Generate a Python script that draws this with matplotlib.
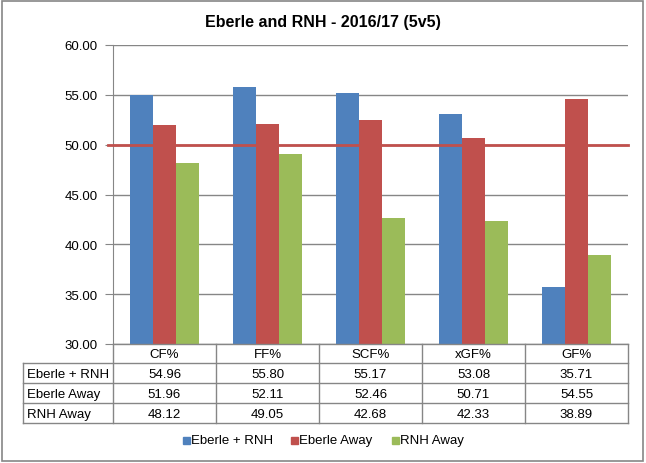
import matplotlib
matplotlib.use("Agg")
import matplotlib.pyplot as plt
from matplotlib.patches import Rectangle
from matplotlib.lines import Line2D
import numpy as np

plt.rcParams['font.family'] = ['Liberation Sans', 'DejaVu Sans']

# data
categories = ['CF%', 'FF%', 'SCF%', 'xGF%', 'GF%']
series_names = ['Eberle + RNH', 'Eberle Away', 'RNH Away']
eberle_rnh = [54.96, 55.80, 55.17, 53.08, 35.71]
eberle_away = [51.96, 52.11, 52.46, 50.71, 54.55]
rnh_away = [48.12, 49.05, 42.68, 42.33, 38.89]
series = [eberle_rnh, eberle_away, rnh_away]
colors = ['#4F81BD', '#C0504D', '#9BBB59']
yticks = [30, 35, 40, 45, 50, 55, 60]
ref_line = 50

W, H = 646, 464
fig = plt.figure(figsize=(W / 100, H / 100), dpi=100)

def fx(px):
    return px / W

def fy(py):
    return 1 - py / H

# outer border
fig.patches.append(Rectangle((fx(2), fy(462)), fx(641), 460 / H,
                             transform=fig.transFigure, fill=False,
                             edgecolor='#868686', linewidth=1.2))

left, right, top, bottom = 113, 628, 46, 345
ax = fig.add_axes([fx(left), fy(bottom), fx(right - left), (bottom - top) / H])

x = np.arange(len(categories))
bw = 0.223
for i, vals in enumerate(series):
    ax.bar(x + (i - 1) * bw, vals, bw, color=colors[i], zorder=2)

ax.axhline(ref_line, xmin=-0.01, color='#C0504D', linewidth=2, zorder=3, clip_on=False)

ax.set_xlim(-0.5, len(categories) - 0.5)
ax.set_ylim(30, 60)
ax.set_yticks(yticks)
ax.set_yticklabels(['%.2f' % t for t in yticks], fontsize=9.5)
ax.yaxis.grid(True, color='#868686', linewidth=1, zorder=0)
ax.set_xticks([])
for s in ['top', 'right', 'bottom']:
    ax.spines[s].set_visible(False)
ax.spines['left'].set_color('#868686')
ax.tick_params(axis='y', length=6, color='#868686', pad=5)

fig.text(fx(323), fy(22), 'Eberle and RNH - 2016/17 (5v5)', ha='center',
         va='center', fontsize=11.5, fontweight='bold')

# data table
grid_c = '#868686'
col_w = (right - left) / len(categories)
row_tops = [345, 364, 384, 404, 424]
lw = 1

def hline(x0, x1, y):
    fig.lines.append(Line2D([fx(x0), fx(x1)], [fy(y), fy(y)], color=grid_c,
                            linewidth=lw, transform=fig.transFigure))

def vline(xp, y0, y1):
    fig.lines.append(Line2D([fx(xp), fx(xp)], [fy(y0), fy(y1)], color=grid_c,
                            linewidth=lw, transform=fig.transFigure))

hline(left, right, row_tops[0])
for y in row_tops[1:]:
    hline(23, right, y)
for j in range(len(categories) + 1):
    vline(left + j * col_w, row_tops[0], row_tops[-1])
vline(23, row_tops[1], row_tops[-1])

for j, c in enumerate(categories):
    fig.text(fx(left + (j + 0.5) * col_w), fy((row_tops[0] + row_tops[1]) / 2 + 1),
             c, ha='center', va='center', fontsize=9.5)
for i, vals in enumerate(series):
    yc = (row_tops[i + 1] + row_tops[i + 2]) / 2 + 1
    fig.text(fx(27), fy(yc), series_names[i], ha='left', va='center', fontsize=9.5)
    for j, v in enumerate(vals):
        fig.text(fx(left + (j + 0.5) * col_w), fy(yc), '%.2f' % v,
                 ha='center', va='center', fontsize=9.5)

# legend
leg_x = [183, 291, 392]
for i, name in enumerate(series_names):
    fig.patches.append(Rectangle((fx(leg_x[i]), fy(445)), fx(7), 7 / H,
                                 transform=fig.transFigure, color=colors[i]))
    fig.text(fx(leg_x[i] + 8), fy(441.5), name, ha='left', va='center', fontsize=9.5)

fig.savefig('out.png', dpi=100)
